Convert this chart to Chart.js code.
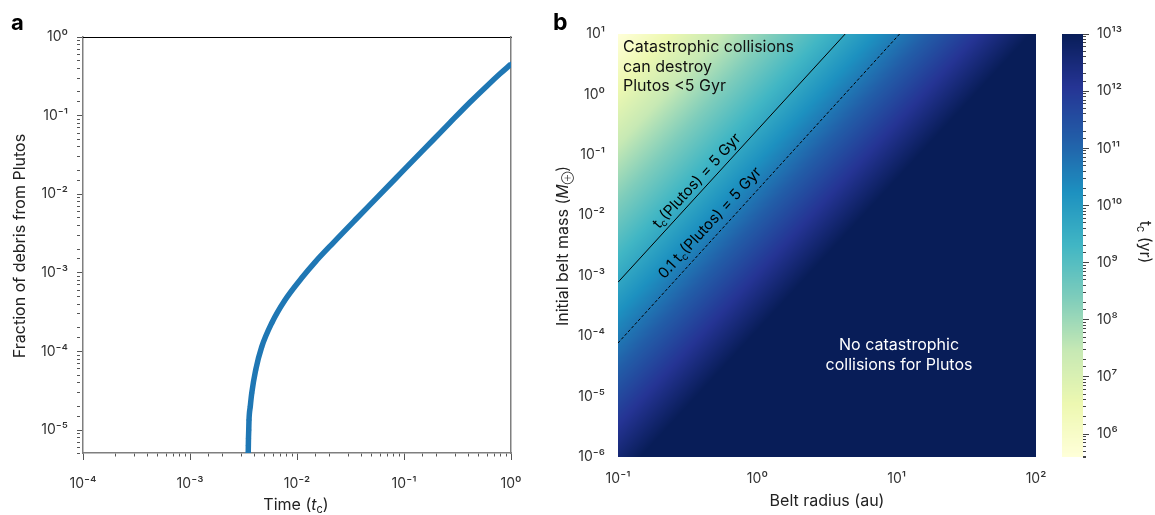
<!DOCTYPE html>
<html>
<head>
<meta charset="utf-8">
<script src="https://cdn.jsdelivr.net/npm/chart.js@4.4.0/dist/chart.umd.min.js"></script>
<style>
  html, body { margin: 0; padding: 0; background: #fff; }
  #wrap { position: relative; width: 1155px; height: 515px; }
  #wrap canvas { position: absolute; left: 0; top: 0; }
</style>
</head>
<body>
<div id="wrap">
  <canvas id="panelA" width="1155" height="515"></canvas>
  <canvas id="panelB" width="1155" height="515"></canvas>
  <canvas id="colorbar" width="1155" height="515"></canvas>
</div>
<script>
// ---- panel a: debris fraction vs time
const timeTc = [3.50e-3, 3.51e-3, 3.52e-3, 3.54e-3, 3.56e-3, 3.66e-3, 3.78e-3, 4.11e-3, 4.68e-3, 5.81e-3, 7.73e-3,
  1.11e-2, 1.47e-2, 2.18e-2, 3.61e-2, 5.56e-2, 9.18e-2, 0.136, 0.188, 0.269, 0.414, 0.593, 0.789, 1.0];
const debrisFrac = [5.1e-6, 6.3e-6, 7.8e-6, 1.0e-5, 1.34e-5, 2.0e-5, 2.96e-5, 5.8e-5, 1.14e-4, 2.3e-4, 4.51e-4,
  8.65e-4, 1.36e-3, 2.41e-3, 4.91e-3, 8.97e-3, 1.81e-2, 3.14e-2, 4.93e-2, 8.15e-2, 0.148, 0.237, 0.340, 0.452];

// ---- panel b: log10 of collision time t_c (yr) on a belt radius x belt mass grid
const beltRadius = [0.1, 1, 10, 100];                       // au
const beltMass = [1e-6, 1e-5, 1e-4, 1e-3, 1e-2, 1e-1, 1, 10]; // Earth masses
const logTcGrid = [
  [12.6, 15.1, 17.6, 20.1],
  [11.6, 14.1, 16.6, 19.1],
  [10.6, 13.1, 15.6, 18.1],
  [9.6, 12.1, 14.6, 17.1],
  [8.6, 11.1, 13.6, 16.1],
  [7.6, 10.1, 12.6, 15.1],
  [6.6, 9.1, 11.6, 14.1],
  [5.6, 8.1, 10.6, 13.1]
];
// contour lines
const contourRadius5Gyr = [0.1, 4.27];
const contourMass5Gyr = [7.8e-4, 10];
const contourRadius50Gyr = [0.1, 10.5];
const contourMass50Gyr = [7.7e-5, 10];
// colour bar range (log10 yr)
const cbarLogMin = 5.6;
const cbarLogMax = 13;

const FONT = 'Inter, "Noto Sans", "DejaVu Sans", sans-serif';
Chart.defaults.font.family = FONT;
Chart.defaults.color = '#333';

// YlGnBu colour map
const YLGNBU = ['#ffffd9', '#edf8b1', '#c7e9b4', '#7fcdbb', '#41b6c4', '#1d91c0', '#225ea8', '#253494', '#081d58']
  .map(h => [parseInt(h.slice(1, 3), 16), parseInt(h.slice(3, 5), 16), parseInt(h.slice(5, 7), 16)]);
function cmap(logV) {
  let f = (logV - cbarLogMin) / (cbarLogMax - cbarLogMin);
  f = Math.max(0, Math.min(1, f)) * (YLGNBU.length - 1);
  const i = Math.min(Math.floor(f), YLGNBU.length - 2);
  const t = f - i;
  const a = YLGNBU[i], b = YLGNBU[i + 1];
  return [a[0] + (b[0] - a[0]) * t, a[1] + (b[1] - a[1]) * t, a[2] + (b[2] - a[2]) * t];
}

const SUP = { '-': '\u207b', '0': '\u2070', '1': '\u00b9', '2': '\u00b2', '3': '\u00b3', '4': '\u2074',
  '5': '\u2075', '6': '\u2076', '7': '\u2077', '8': '\u2078', '9': '\u2079' };
const isDecade = v => { const e = Math.log10(v); return Math.abs(e - Math.round(e)) < 1e-6; };
const decadeLabel = v => isDecade(v) ? '10' + String(Math.round(Math.log10(v))).split('').map(c => SUP[c]).join('') : '';
const minorDash = c => (c.tick && !isDecade(c.tick.value)) ? [3, 30] : [];

// draws text made of parts: {t, it (italic), sub (subscript), scale}
function drawRich(ctx, parts, x, y, size, align) {
  const fontOf = p => (p.it ? 'italic ' : '') + (p.sub ? Math.round(size * (p.scale || 0.68)) : size) + 'px ' + FONT;
  let w = 0;
  parts.forEach(p => { ctx.font = fontOf(p); w += ctx.measureText(p.t).width; });
  let cx = align === 'center' ? x - w / 2 : x;
  ctx.textAlign = 'left';
  parts.forEach(p => {
    ctx.font = fontOf(p);
    ctx.fillText(p.t, cx, y + (p.sub ? size * 0.3 : 0));
    cx += ctx.measureText(p.t).width;
  });
}
function drawRotated(ctx, parts, x, y, size, angle) {
  ctx.save();
  ctx.translate(x, y);
  ctx.rotate(angle);
  drawRich(ctx, parts, 0, 0, size, 'center');
  ctx.restore();
}

// ---------------- panel a
const panelAText = {
  id: 'panelAText',
  afterDraw(chart) {
    const ctx = chart.ctx;
    ctx.save();
    ctx.fillStyle = '#000';
    ctx.textBaseline = 'alphabetic';
    ctx.font = 'bold 22px ' + FONT;
    ctx.fillText('a', 11, 30);
    ctx.fillStyle = '#222';
    ctx.textBaseline = 'middle';
    drawRotated(ctx, [{ t: 'Fraction of debris from Plutos' }], 20, 246, 16, -Math.PI / 2);
    drawRich(ctx, [{ t: 'Time (' }, { t: 't', it: true }, { t: 'c', sub: true }, { t: ')' }], 296, 505, 16, 'center');
    ctx.restore();
  }
};

new Chart(document.getElementById('panelA'), {
  type: 'scatter',
  data: {
    datasets: [{
      data: timeTc.map((t, i) => ({ x: t, y: debrisFrac[i] })),
      showLine: true,
      borderColor: '#1f77b4',
      backgroundColor: '#1f77b4',
      borderWidth: 5.5,
      cubicInterpolationMode: 'monotone',
      pointStyle: 'rectRot',
      pointRadius: 2.8,
      pointBorderWidth: 0
    }]
  },
  options: {
    responsive: false,
    animation: false,
    events: [],
    layout: { padding: { left: 0, top: 37, right: 644, bottom: 0 } },
    plugins: { legend: { display: false }, tooltip: { enabled: false } },
    scales: {
      x: {
        type: 'logarithmic', position: 'bottom', min: 1e-4, max: 1,
        border: { color: '#7f7f7f', width: 1.5 },
        grid: { drawOnChartArea: false, tickLength: 7, tickColor: '#555', tickBorderDash: minorDash },
        ticks: { autoSkip: false, maxRotation: 0, padding: 15, font: { size: 14 }, color: '#333', callback: decadeLabel },
        afterFit: s => { s.height = 62; }
      },
      y: {
        type: 'logarithmic', position: 'left', min: 5.1e-6, max: 1,
        border: { color: '#7f7f7f', width: 1.5 },
        grid: { drawOnChartArea: false, tickLength: 6, tickColor: '#555', tickBorderDash: minorDash },
        ticks: { autoSkip: false, padding: 9, font: { size: 14 }, color: '#333', callback: decadeLabel },
        afterFit: s => { s.width = 83; }
      },
      xTop: {
        type: 'logarithmic', position: 'top', min: 1e-4, max: 1,
        border: { color: '#000', width: 1 },
        grid: { drawOnChartArea: false, drawTicks: false },
        ticks: { display: false },
        afterFit: s => { s.height = 0; }
      },
      yRight: {
        type: 'logarithmic', position: 'right', min: 5.1e-6, max: 1,
        border: { color: '#7f7f7f', width: 1.5 },
        grid: { drawOnChartArea: false, drawTicks: false },
        ticks: { display: false },
        afterFit: s => { s.width = 0; }
      }
    }
  },
  plugins: [panelAText]
});

// ---------------- panel b
function logTcAt(logR, logM) {
  const lr = beltRadius.map(Math.log10), lm = beltMass.map(Math.log10);
  let fx = (logR - lr[0]) / (lr[1] - lr[0]);
  let fy = (logM - lm[0]) / (lm[1] - lm[0]);
  const i = Math.max(0, Math.min(lr.length - 2, Math.floor(fx)));
  const j = Math.max(0, Math.min(lm.length - 2, Math.floor(fy)));
  const tx = fx - i, ty = fy - j;
  const a = logTcGrid[j][i], b = logTcGrid[j][i + 1], c = logTcGrid[j + 1][i], d = logTcGrid[j + 1][i + 1];
  return (a * (1 - tx) + b * tx) * (1 - ty) + (c * (1 - tx) + d * tx) * ty;
}

const heatmap = {
  id: 'heatmap',
  beforeDatasetsDraw(chart) {
    const { ctx, chartArea: area, scales: { x, y } } = chart;
    const left = Math.round(area.left), top = Math.round(area.top);
    const w = Math.round(area.right) - left, h = Math.round(area.bottom) - top;
    const img = ctx.createImageData(w, h);
    for (let j = 0; j < h; j++) {
      const logM = Math.log10(y.getValueForPixel(top + j + 0.5));
      for (let i = 0; i < w; i++) {
        const logR = Math.log10(x.getValueForPixel(left + i + 0.5));
        const col = cmap(logTcAt(logR, logM));
        const k = (j * w + i) * 4;
        img.data[k] = col[0]; img.data[k + 1] = col[1]; img.data[k + 2] = col[2]; img.data[k + 3] = 255;
      }
    }
    ctx.putImageData(img, left, top);
  }
};

const panelBText = {
  id: 'panelBText',
  afterDraw(chart) {
    const ctx = chart.ctx;
    const ang = Math.atan2(-248, 227);
    ctx.save();
    ctx.textBaseline = 'alphabetic';
    ctx.fillStyle = '#000';
    ctx.font = 'bold 23px ' + FONT;
    ctx.fillText('b', 553, 30);

    ctx.fillStyle = '#111';
    ctx.font = '16px ' + FONT;
    ctx.textAlign = 'left';
    ctx.fillText('Catastrophic collisions', 623, 52);
    ctx.fillText('can destroy', 623, 72);
    ctx.fillText('Plutos <5 Gyr', 623, 91);

    ctx.fillStyle = '#fff';
    ctx.textAlign = 'center';
    ctx.fillText('No catastrophic', 899, 350);
    ctx.fillText('collisions for Plutos', 899, 370);

    ctx.fillStyle = '#000';
    ctx.textBaseline = 'middle';
    drawRotated(ctx, [{ t: 't' }, { t: 'c', sub: true }, { t: '(Plutos) = 5 Gyr' }], 697, 181, 15, ang);
    drawRotated(ctx, [{ t: '0.1 t' }, { t: 'c', sub: true }, { t: '(Plutos) = 5 Gyr' }], 710, 223, 15, ang);

    ctx.fillStyle = '#222';
    drawRotated(ctx, [{ t: 'Initial belt mass (' }, { t: 'M', it: true }, { t: '\u2295', sub: true, scale: 0.55 }, { t: ')' }], 563, 246, 16, -Math.PI / 2);
    drawRich(ctx, [{ t: 'Belt radius (au)' }], 827, 501, 16, 'center');
    drawRotated(ctx, [{ t: 't' }, { t: 'c', sub: true }, { t: ' (yr)' }], 1145, 242, 16, Math.PI / 2);
    ctx.restore();
  }
};

new Chart(document.getElementById('panelB'), {
  type: 'scatter',
  data: {
    datasets: [{
      data: contourRadius5Gyr.map((r, i) => ({ x: r, y: contourMass5Gyr[i] })),
      showLine: true, borderColor: '#000', borderWidth: 1, pointRadius: 0
    }, {
      data: contourRadius50Gyr.map((r, i) => ({ x: r, y: contourMass50Gyr[i] })),
      showLine: true, borderColor: '#000', borderWidth: 1, borderDash: [3, 2], pointRadius: 0
    }]
  },
  options: {
    responsive: false,
    animation: false,
    events: [],
    layout: { padding: { left: 0, top: 34, right: 119, bottom: 0 } },
    plugins: { legend: { display: false }, tooltip: { enabled: false } },
    scales: {
      x: {
        type: 'logarithmic', min: 0.1, max: 100,
        border: { display: false },
        grid: { display: false },
        ticks: { autoSkip: false, maxRotation: 0, padding: 5, font: { size: 14 }, color: '#333', callback: decadeLabel },
        afterFit: s => { s.height = 58; }
      },
      y: {
        type: 'logarithmic', min: 1e-6, max: 10,
        border: { display: false },
        grid: { display: false },
        ticks: { autoSkip: false, padding: 5, font: { size: 14 }, color: '#333', callback: decadeLabel },
        afterFit: s => { s.width = 618; }
      }
    }
  },
  plugins: [heatmap, panelBText]
});

// ---------------- colour bar
const cbarFill = {
  id: 'cbarFill',
  beforeDatasetsDraw(chart) {
    const { ctx, chartArea: area, scales: { y } } = chart;
    for (let py = Math.floor(area.top); py < Math.ceil(area.bottom); py++) {
      const c = cmap(Math.log10(y.getValueForPixel(py + 0.5)));
      ctx.fillStyle = `rgb(${c[0]},${c[1]},${c[2]})`;
      ctx.fillRect(area.left, py, area.right - area.left, 1);
    }
  }
};

new Chart(document.getElementById('colorbar'), {
  type: 'scatter',
  data: { datasets: [{ data: [] }] },
  options: {
    responsive: false,
    animation: false,
    events: [],
    layout: { padding: { left: 1062, top: 34, right: 0, bottom: 58 } },
    plugins: { legend: { display: false }, tooltip: { enabled: false } },
    scales: {
      x: { type: 'linear', display: false },
      y: {
        type: 'logarithmic', position: 'right', min: Math.pow(10, cbarLogMin), max: Math.pow(10, cbarLogMax),
        border: { display: false },
        grid: { drawOnChartArea: false, tickLength: 6, tickColor: '#444', tickBorderDash: minorDash },
        ticks: { autoSkip: false, padding: 8, font: { size: 14 }, color: '#333', callback: decadeLabel },
        afterFit: s => { s.width = 72; }
      }
    }
  },
  plugins: [cbarFill]
});
</script>
</body>
</html>
